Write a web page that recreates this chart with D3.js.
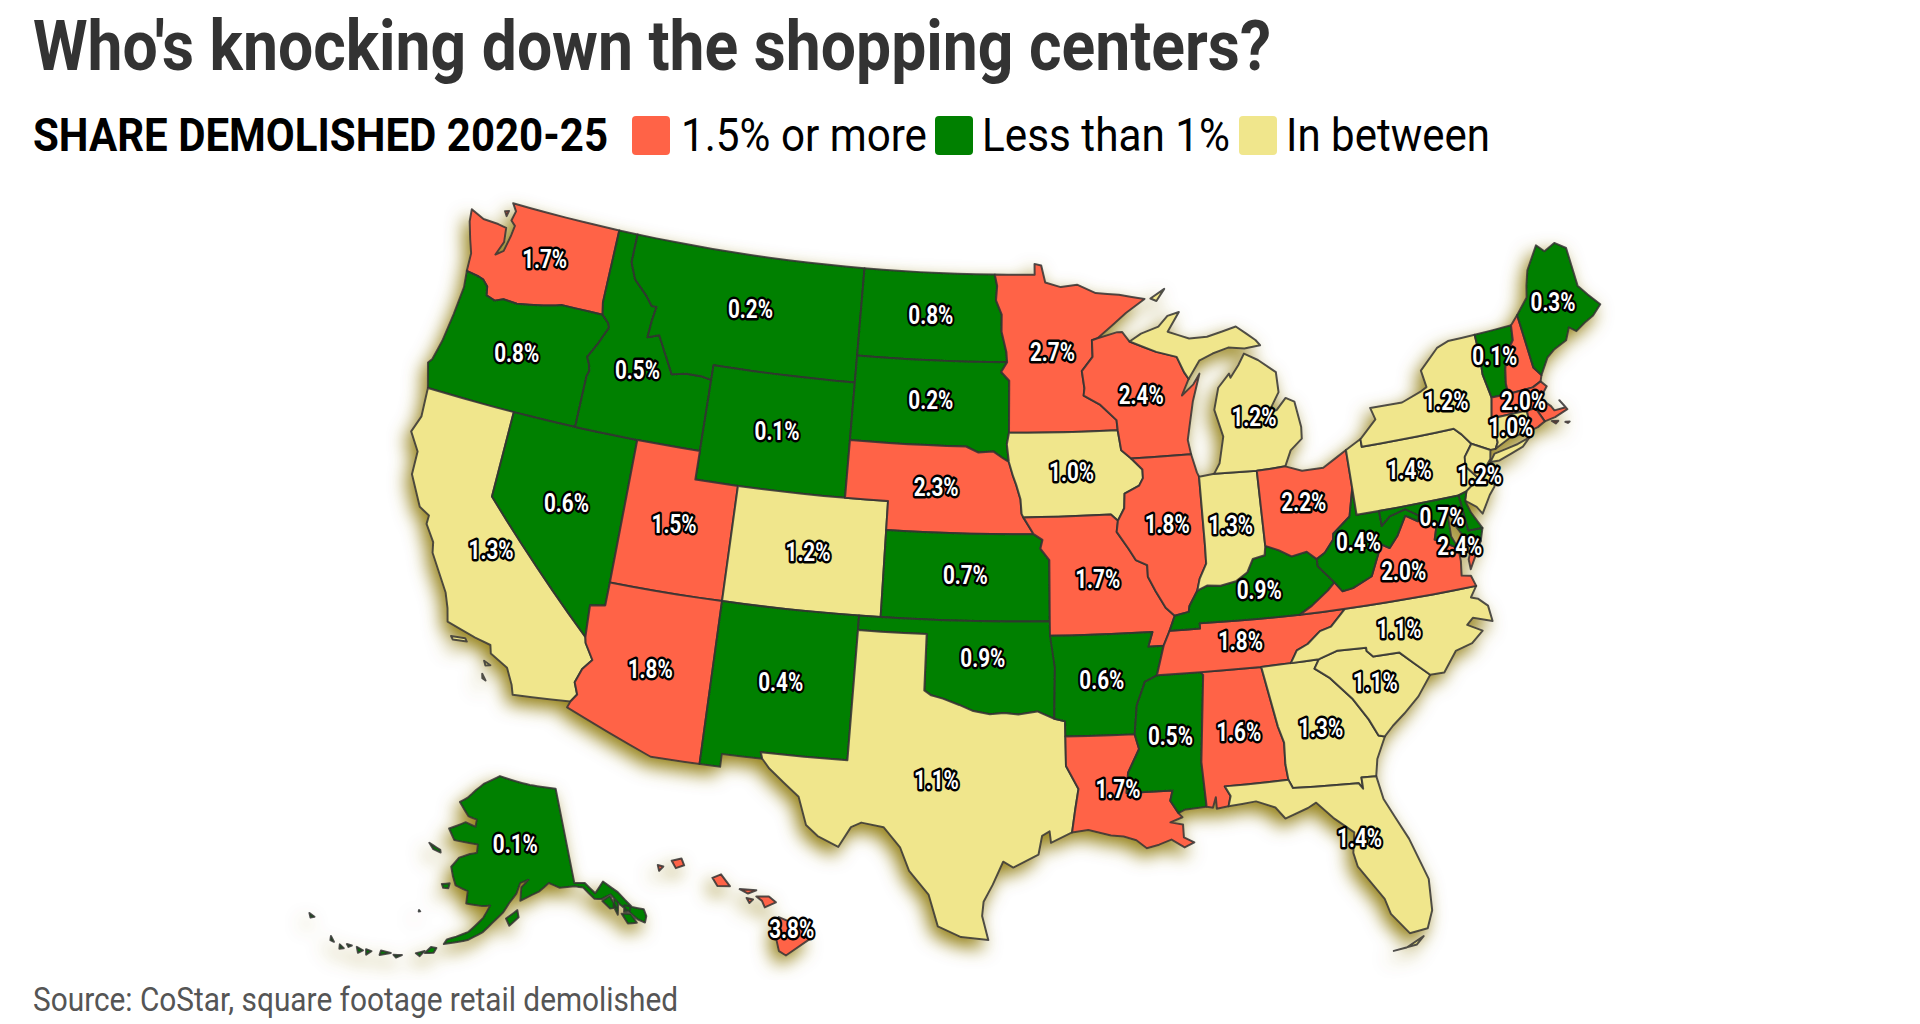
<!DOCTYPE html>
<html>
<head>
<meta charset="utf-8">
<title>Who's knocking down the shopping centers?</title>
<script src="https://cdn.jsdelivr.net/npm/d3@7"></script>
<style>
  body { margin: 0; background: #fff; }
  svg { display: block; }
  text { font-family: Roboto, sans-serif; }
  .state { stroke: #333; stroke-opacity: .85; stroke-width: 2; stroke-linejoin: round; }
  .share { fill: #fff; font-weight: 700; font-size: 25px; stroke: #000; stroke-width: 5px; paint-order: stroke; stroke-linejoin: round; text-anchor: middle; }
</style>
</head>
<body>
<div id="chart"></div>
<script>
var titleText = "Who's knocking down the shopping centers?";
var legendHead = "SHARE DEMOLISHED 2020-25";
var legendLabels = ["1.5% or more", "Less than 1%", "In between"];
var sourceText = "Source: CoStar, square footage retail demolished";

var stateIds = ["WA","OR","CA","NV","ID","MT","WY","UT","AZ","CO","NM","ND","SD","NE","KS","OK","TX","MN","IA","MO","AR","LA","WI","IL","MS","AL","TN","KY","IN","MI","OH","GA","FL","SC","NC","VA","WV","PA","NY","VT","NH","ME","MA","CT","RI","NJ","DE","MD","DC","AK","HI"];
var stateShares = [1.7,0.8,1.3,0.6,0.5,0.2,0.1,1.5,1.8,1.2,0.4,0.8,0.2,2.3,0.7,0.9,1.1,2.7,1.0,1.7,0.6,1.7,2.4,1.8,0.5,1.6,1.8,0.9,1.3,1.2,2.2,1.3,1.4,1.1,1.1,2.0,0.4,1.4,1.2,0.1,2.0,0.3,2.0,1.0,2.0,1.2,0.7,0.7,2.4,0.1,3.8];
var noLabel = ["NH","RI","DE"];

// shared borders, lon/lat
var columbia = [[-124.05,46.27],[-123.4,46.2],[-123.15,46.15],[-122.85,45.95],[-122.76,45.65],[-122.3,45.55],[-121.9,45.68],[-121.2,45.65],[-120.6,45.73],[-119.9,45.83],[-119.3,45.93],[-119,46],[-116.92,46]];
var snake = [[-116.92,46],[-116.55,45.75],[-116.47,45.6],[-116.85,44.95],[-117.2,44.45],[-117.03,44.2],[-116.95,43.98],[-117.03,43.8],[-117.03,42]];
var bitterroot = [[-116.05,49],[-116.05,48],[-115.7,47.45],[-114.95,46.95],[-114.6,46.65],[-114.35,46.65],[-114.45,46.15],[-114.5,45.55],[-113.95,45.7],[-113.45,45.05],[-113,44.45],[-112.3,44.55],[-111.5,44.55],[-111.05,44.48]];
var colorado = [[-114.63,35],[-114.57,34.8],[-114.15,34.27],[-114.5,33.9],[-114.7,33.4],[-114.5,33],[-114.72,32.72]];
var redNorth = [[-97.23,49],[-97.1,48.6],[-97.15,48.1],[-96.85,47.6],[-96.85,47],[-96.6,46.3],[-96.56,45.94]];
var sdMn = [[-96.56,45.94],[-96.85,45.6],[-96.45,45.3],[-96.45,43.5]];
var sdIa = [[-96.45,43.5],[-96.55,43.1],[-96.45,42.49]];
var sdNe = [[-96.45,42.49],[-96.7,42.6],[-97.2,42.85],[-97.9,42.8],[-98.5,43],[-104.05,43]];
var neIa = [[-96.45,42.49],[-96.25,42],[-96.1,41.7],[-95.9,41.2],[-95.85,40.7],[-95.77,40.58]];
var neMo = [[-95.77,40.58],[-95.3,40]];
var ksMo = [[-95.3,40],[-94.9,39.8],[-95,39.5],[-94.6,39.1],[-94.62,37]];
var mnWi = [[-92.29,46.66],[-92.29,46.08],[-92.85,45.6],[-92.75,45],[-92.8,44.75],[-92,44.4],[-91.25,43.85],[-91.22,43.5]];
var wiIa = [[-91.22,43.5],[-91.1,42.8],[-90.65,42.5]];
var ilIa = [[-90.65,42.5],[-90.15,42.1],[-90.15,41.8],[-90.35,41.55],[-91.05,41.3],[-91.1,40.8],[-91.42,40.38]];
var ilMo = [[-91.42,40.38],[-91.5,40],[-91,39.4],[-90.7,39],[-90.2,38.8],[-90.2,38.4],[-89.9,37.9],[-89.5,37.3],[-89.13,37]];
var moKy = [[-89.13,37],[-89.4,36.5]];
var moTn = [[-89.4,36.5],[-89.7,36]];
var arTn = [[-89.7,36],[-90.07,35]];
var arMs = [[-90.07,35],[-90.6,34.8],[-91,34],[-91.15,33.01]];
var laMs = [[-91.15,33.01],[-91,32.5],[-91.5,31.7],[-91.6,31],[-89.73,31],[-89.85,30.65],[-89.55,30.2]];
var redSouth = [[-94.49,33.64],[-95.2,33.9],[-96,33.8],[-96.6,33.85],[-97.2,33.8],[-97.9,33.9],[-98.5,34.1],[-99.2,34.3],[-99.7,34.4],[-100,34.56]];
var txLa = [[-94.04,33.02],[-94.04,32],[-93.55,31.2],[-93.7,30.5],[-93.85,29.7]];
var ohWv = [[-80.52,40.64],[-80.85,39.7],[-81.7,39.2],[-81.75,39],[-82.2,38.6],[-82.6,38.42]];
var kyOh = [[-82.6,38.42],[-83,38.72],[-83.7,38.63],[-84.25,38.9],[-84.82,39.1]];
var inKy = [[-84.82,39.1],[-84.9,38.78],[-85.45,38.7],[-85.75,38.27],[-86.3,38],[-87,37.9],[-87.6,37.95],[-88.05,37.8]];
var ilKy = [[-88.05,37.8],[-88.45,37.3],[-88.5,37.1],[-89.13,37]];
var wabash = [[-88.05,37.8],[-87.9,38.2],[-87.55,38.7],[-87.53,39.35],[-87.52,41.7]];
var kyTn = [[-89.4,36.5],[-88.07,36.5],[-88.07,36.68],[-86.5,36.65],[-83.68,36.6]];
var kyVa = [[-83.68,36.6],[-83.1,36.85],[-82.3,37.3],[-81.97,37.54]];
var kyWv = [[-81.97,37.54],[-82.6,38.17],[-82.6,38.42]];
var vaTn = [[-83.68,36.6],[-81.68,36.59]];
var vaNc = [[-81.68,36.59],[-75.87,36.55]];
var tnNc = [[-81.68,36.59],[-82.4,36.05],[-82.9,35.95],[-83.5,35.57],[-84,35.4],[-84.32,34.99]];
var tnSouth = [[-90.07,35],[-88.2,35],[-85.6,34.98],[-84.32,34.99]];
var vaWv = [[-81.97,37.54],[-81.68,37.2],[-81.2,37.25],[-80.3,37.55],[-79.65,38.58],[-79.3,38.4],[-78.87,38.76],[-78.35,39.4],[-77.83,39.13]];
var mdWv = [[-79.48,39.2],[-79.05,39.47],[-78.3,39.62],[-77.75,39.32]];
var mdVa = [[-77.75,39.32],[-77.5,39.1],[-77.05,38.85],[-77.25,38.4],[-76.9,38.25],[-76.3,37.95]];
var nyPa = [[-75.35,42],[-75.05,41.75],[-74.7,41.36]];
var paNj = [[-74.7,41.36],[-75.13,40.97],[-75.2,40.65],[-74.72,40.15],[-75.4,39.8]];
var vtNy = [[-73.35,45],[-73.35,44.2],[-73.43,43.6],[-73.27,42.75]];
var vtNh = [[-71.5,45.01],[-71.6,44.5],[-72.05,44.1],[-72.3,43.6],[-72.45,43.1],[-72.46,42.73]];
var meNh = [[-71.08,45.3],[-70.98,43.4],[-70.7,43.07]];
var scGa = [[-83.11,35],[-83.35,34.7],[-82.75,34.3],[-81.95,33.5],[-81.4,32.7],[-81.1,32.1],[-80.85,32.03]];
var ncSc = [[-83.11,35],[-82.3,35.2],[-81.04,35.15],[-81.04,35.04],[-80.8,34.82],[-79.67,34.8],[-78.55,33.86]];
var gaAl = [[-85.6,34.98],[-85.18,32.87],[-85,32.3],[-85.05,31.55],[-85,31]];
var gaFl = [[-85,31],[-84.86,30.7],[-82.2,30.57],[-82.05,30.36],[-82.05,30.75],[-81.45,30.72]];
var msAl = [[-88.2,35],[-88.1,34.9],[-88.47,31.9],[-88.4,30.35]];
var flAl = [[-85,31],[-87.6,31],[-87.4,30.65],[-87.52,30.3]];

function rev(a) { return a.slice().reverse(); }
function join() { return [].concat.apply([], arguments); }

var outlines = {
  WA: [join([[-124.73,48.38],[-124,48.17],[-123.2,48.15],[-122.75,48.1],[-122.65,47.6],[-122.9,47.1],[-122.55,47.3],[-122.4,47.9],[-122.35,48.25],[-122.6,48.4],[-122.5,48.75],[-122.76,49],[-117.03,49],[-117.04,46.42]], rev(columbia), [[-124.1,46.9],[-124.35,47.35],[-124.65,47.95]]),
       [[-123.05,48.65],[-122.85,48.7],[-122.9,48.5]]],
  OR: [join(columbia, snake, [[-120,42],[-124.2,42],[-124.55,42.84],[-124.4,43],[-124.2,43.7],[-124.05,44.7],[-123.95,45.7]])],
  CA: [join([[-124.2,42],[-120,42],[-120,39]], colorado, [[-117.12,32.53],[-117.25,32.85],[-117.6,33.4],[-118.4,33.75],[-118.5,34.03],[-119.2,34.15],[-120.5,34.45],[-120.65,34.9],[-120.9,35.4],[-121.9,36.6],[-122,36.96],[-122.5,37.5],[-122.5,37.8],[-123,38],[-123.75,39],[-123.8,39.8],[-124.35,40.4],[-124.1,41]]),
       [[-120.2,34],[-119.6,34.05],[-119.5,33.95],[-120.1,33.9]], [[-118.6,33.45],[-118.3,33.35],[-118.5,33.3]], [[-118.55,33],[-118.35,32.8],[-118.5,32.85]]],
  NV: [join([[-120,42],[-114.04,42],[-114.04,37],[-114.05,36.2],[-114.7,36.1],[-114.63,35],[-120,39]])],
  ID: [join([[-117.03,49]], bitterroot, [[-111.05,42],[-114.04,42],[-117.03,42]], rev(snake), [[-117.04,46.42]])],
  MT: [join([[-116.05,49],[-104.05,49],[-104.05,45],[-111.05,45]], rev(bitterroot))],
  WY: [[[-111.05,45],[-104.05,45],[-104.05,41],[-111.05,41]]],
  UT: [[[-114.04,42],[-111.05,42],[-111.05,41],[-109.05,41],[-109.05,37],[-114.04,37]]],
  AZ: [join([[-114.04,37],[-109.05,37],[-109.05,31.33],[-111.07,31.33],[-114.81,32.5]], rev(colorado), [[-114.7,36.1],[-114.05,36.2]])],
  CO: [[[-109.05,41],[-102.05,41],[-102.05,37],[-109.05,37]]],
  NM: [[[-109.05,37],[-103,37],[-103,36.5],[-103.04,32],[-106.62,32],[-106.53,31.78],[-108.2,31.78],[-108.2,31.33],[-109.05,31.33]]],
  ND: [join([[-104.05,49]], redNorth, [[-104.05,45.94]])],
  SD: [join([[-104.05,45.94]], sdMn, sdIa, sdNe, [[-104.05,45]])],
  NE: [join(sdNe, [[-104.05,41],[-102.05,41],[-102.05,40]], rev(neMo), rev(neIa))],
  KS: [join([[-102.05,40]], ksMo, [[-102.05,37]])],
  OK: [join([[-103,37],[-94.62,37],[-94.43,35.4]], redSouth, [[-100,36.5],[-103,36.5]])],
  TX: [join([[-103,36.5],[-100,36.5]], rev(redSouth), [[-94.04,33.55]], txLa, [[-94.7,29.35],[-94.75,29.75],[-95.05,29.6],[-95.2,28.95],[-96.2,28.5],[-96.6,28.7],[-97,27.9],[-97.35,27.3],[-97.4,26.8],[-97.15,25.96],[-98.2,26.05],[-99.1,26.4],[-99.5,27.5],[-100.3,28.3],[-100.7,29.1],[-101.4,29.77],[-102.3,29.88],[-102.7,29.7],[-103.15,28.98],[-104,29.3],[-104.5,29.65],[-104.9,30.6],[-106.2,31.47],[-106.53,31.78],[-106.62,32],[-103.04,32]])],
  MN: [join([[-97.23,49],[-95.15,49],[-95.15,49.38],[-94.8,49.32],[-94.6,48.72],[-93.8,48.55],[-92.95,48.62],[-92,48.3],[-90.8,48.2],[-89.5,48],[-90.5,47.55],[-92,46.72]], mnWi, [[-96.45,43.5]], rev(sdMn), rev(redNorth))],
  IA: [join([[-96.45,43.5]], wiIa, ilIa, [[-91.73,40.61]], rev(neIa), rev(sdIa))],
  MO: [join([[-95.77,40.58],[-91.73,40.61]], ilMo, moKy, moTn, [[-90.37,36],[-90.15,36.5],[-94.62,36.5]], rev(ksMo))],
  AR: [join([[-94.62,36.5],[-90.15,36.5],[-90.37,36]], arTn, arMs, [[-94.04,33.02],[-94.04,33.55],[-94.49,33.64],[-94.43,35.4]])],
  LA: [join([[-94.04,33.02]], laMs, [[-89.4,30.05],[-89.9,29.9],[-89.4,29.8],[-89.4,29.35],[-89,29.15],[-89.4,29],[-89.9,29.3],[-90.4,29.15],[-90.9,29.05],[-91.3,29.35],[-91.8,29.5],[-92.3,29.55],[-93.2,29.77]], rev(txLa))],
  WI: [join(mnWi, wiIa, [[-87.8,42.5],[-87.9,43],[-87.75,43.5],[-87.5,44.3],[-87.05,45.25],[-87.4,44.9],[-88,44.55],[-87.6,45.1],[-87.8,45.35],[-88.1,45.9],[-89.1,46.13],[-90.4,46.55],[-90.75,46.9],[-91,46.9],[-92,46.72]])],
  IL: [join([[-90.65,42.5],[-87.8,42.5],[-87.6,41.85]], rev(wabash), ilKy, rev(ilMo), rev(ilIa))],
  MS: [join([[-90.07,35]], msAl, [[-89.3,30.3]], rev(laMs), rev(arMs))],
  AL: [join([[-88.2,35]], gaAl, flAl, [[-88,30.25],[-88,30.65],[-88.15,30.3]], rev(msAl))],
  TN: [join(tnSouth, rev(tnNc), rev(vaTn), rev(kyTn), moTn, arTn)],
  KY: [join(kyTn, kyVa, kyWv, kyOh, inKy, ilKy, moKy)],
  IN: [join([[-87.52,41.7],[-86.8,41.76],[-84.8,41.7]], inKy, wabash)],
  MI: [[[-90.4,46.55],[-89.8,46.8],[-88.9,47],[-88.4,47.35],[-87.8,47.45],[-88.45,46.8],[-87.4,46.5],[-86.5,46.5],[-85,46.75],[-84.5,46.45],[-84.1,46.2],[-83.9,46],[-84.7,45.95],[-85.5,46.05],[-86.3,45.9],[-87,45.7],[-87.6,45.1],[-87.8,45.35],[-88.1,45.9],[-89.1,46.13]],
       [[-84.75,45.78],[-85.1,45.4],[-85.55,45],[-85.6,45.15],[-86.2,44.7],[-86.5,43.95],[-86.2,43],[-86.5,42.1],[-86.8,41.76],[-84.8,41.7],[-83.45,41.73],[-83.1,42.25],[-82.5,42.6],[-82.45,43],[-82.6,43.9],[-83,44.07],[-83.5,43.7],[-83.9,43.65],[-83.3,44.3],[-83.3,45],[-84.1,45.5]],
       [[-89.2,48],[-88.45,48.3],[-88.9,47.9]]],
  OH: [join([[-84.8,41.7],[-83.45,41.73],[-82.7,41.5],[-81.7,41.5],[-80.52,41.98]], ohWv, kyOh)],
  GA: [join([[-85.6,34.98],[-84.32,34.99]], scGa, [[-81.3,31.3]], rev(gaFl), rev(gaAl))],
  FL: [join(gaFl, [[-81.3,29.9],[-80.95,29.2],[-80.55,28.4],[-80.05,26.9],[-80.12,25.8],[-80.4,25.2],[-81.1,25.13],[-81.7,25.9],[-81.85,26.45],[-82.15,26.9],[-82.7,27.7],[-82.8,28.2],[-82.65,28.9],[-83.4,29.5],[-84,30.1],[-84.35,29.95],[-85.3,29.68],[-85.65,30.1],[-86.4,30.38]], rev(flAl)),
       [[-81.8,24.6],[-81.3,24.65],[-80.6,24.95],[-80.9,24.7]]],
  SC: [join(ncSc, [[-79.2,33.2],[-79.9,32.7],[-80.45,32.35]], rev(scGa))],
  NC: [join(vaNc, [[-76.2,36.2],[-75.9,36.1],[-75.55,35.8],[-75.5,35.25],[-76.3,35.5],[-76.6,35.3],[-76,35],[-76.55,34.65],[-77.3,34.5],[-77.95,33.85]], rev(ncSc), [[-84.32,34.99]], rev(tnNc))],
  VA: [join(mdVa, [[-76.3,37.5],[-76.4,37],[-76,36.93]], rev(vaNc), rev(vaTn), kyVa, vaWv),
       [[-75.65,37.95],[-75.25,38.03],[-75.95,37.15],[-75.95,37.5]]],
  WV: [join([[-80.52,40.64],[-80.52,39.72],[-79.48,39.72]], mdWv, rev(vaWv), kyWv, rev(ohWv))],
  PA: [join([[-80.52,41.98],[-79.76,42.27],[-79.76,42]], nyPa, paNj, [[-75.79,39.72],[-80.52,39.72]])],
  NY: [join([[-79.76,42.27],[-78.9,42.85],[-79.05,43.27],[-77.5,43.25],[-76.5,43.5],[-76.2,43.6],[-76.3,44.2],[-75.3,44.85],[-74.7,45]], vtNy, [[-73.5,42.05],[-73.49,41.2],[-73.65,41],[-73.9,41],[-74.7,41.36]], rev(nyPa), [[-79.76,42]]),
       [[-74.03,40.6],[-73.75,40.85],[-72.6,40.98],[-72,41.1],[-72.4,40.85],[-73.6,40.58]]],
  VT: [join(vtNh, rev(vtNy))],
  NH: [join(vtNh.slice(0, 1), meNh, [[-70.82,42.87],[-71.25,42.74]], rev(vtNh))],
  ME: [join(meNh, [[-70.2,43.6],[-69.8,43.8],[-69.1,44],[-68.8,44.4],[-68.5,44.2],[-68,44.4],[-67.5,44.55],[-67,44.85],[-67.45,45.3],[-67.8,45.7],[-67.8,47.07],[-68.3,47.36],[-68.9,47.18],[-69.23,47.46],[-70,46.7],[-70.25,46.2],[-70.4,45.8]])],
  MA: [[[-73.5,42.05],[-73.27,42.75],[-72.46,42.73],[-71.25,42.74],[-70.82,42.87],[-70.6,42.65],[-71.05,42.3],[-70.65,41.95],[-70.55,41.78],[-70,41.78],[-70.2,42.07],[-69.95,41.7],[-70.6,41.55],[-71.12,41.5],[-71.38,42.02],[-71.8,42.02]],
       [[-70.8,41.45],[-70.5,41.4],[-70.65,41.33]], [[-70.2,41.3],[-70,41.27],[-70.1,41.24]]],
  CT: [[[-73.5,42.05],[-71.8,42.02],[-71.85,41.32],[-72.9,41.25],[-73.65,41],[-73.49,41.2]]],
  RI: [[[-71.8,42.02],[-71.38,42.02],[-71.12,41.5],[-71.5,41.37],[-71.85,41.32]]],
  NJ: [join([[-73.9,41],[-74.7,41.36]], paNj.slice(1), [[-75.55,39.5],[-75.1,39.2],[-74.9,38.93],[-74.4,39.5],[-74.1,39.75],[-74,40.45],[-74.25,40.5],[-74,40.7]])],
  DE: [[[-75.79,39.72],[-75.4,39.8],[-75.55,39.5],[-75.4,39.05],[-75.05,38.45],[-75.7,38.46]]],
  MD: [join([[-79.48,39.72],[-75.79,39.72],[-75.7,38.46],[-75.05,38.45],[-75.25,38.03],[-75.65,37.95],[-75.9,38.2],[-76.2,38.7],[-76,39.4],[-76.45,39.1],[-76.5,38.4]], rev(mdVa), rev(mdWv))],
  DC: [[[-77.12,38.93],[-77.04,39],[-76.91,38.89],[-77.04,38.79]]],
  AK: [[[-141,69.65],[-141,60.3],[-139,60.1],[-137.5,58.9],[-135.5,59.8],[-134,58.8],[-133.4,58.4],[-131.8,56.6],[-130,56],[-130,55.3],[-130.6,54.75],[-131.6,55.3],[-132.5,56.2],[-133.7,57.2],[-134.8,58.4],[-136.6,58.2],[-137.9,58.4],[-139.5,59.7],[-141,60],[-144,60.1],[-146,60.7],[-148,60],[-149.5,59.7],[-151.8,59.2],[-151.5,60.5],[-150,61.2],[-151.7,60.9],[-152.5,59.9],[-153.9,59],[-155,58.1],[-157,57],[-158.5,56.1],[-161,55.2],[-163.2,54.8],[-164.9,54.5],[-164.5,55],[-163,55.4],[-161,56],[-158.6,57.5],[-157.5,58.7],[-159,58.6],[-162,58.7],[-162,59.9],[-164.5,60.3],[-165.3,61.1],[-166,62],[-164.7,63],[-162.5,63.5],[-161,63.7],[-161,64.5],[-163,64.55],[-166.4,64.6],[-168.1,65.6],[-164.5,66.5],[-162,66.2],[-161.9,66.9],[-164,67.1],[-166.8,68.35],[-165,68.9],[-163,69.8],[-161,70.5],[-156.6,71.35],[-152,70.85],[-148,70.4],[-144,70]],
       [[-154.5,57.5],[-152.4,58.3],[-152.2,57.6],[-153.9,56.8]], [[-167.2,60.2],[-165.7,60.4],[-165.8,59.9],[-166.8,59.85]], [[-171.7,63.8],[-169,63.4],[-168.8,63.15],[-170.5,63.3]],
       [[-136.6,58],[-135,58.3],[-134.5,57],[-135.6,57.1]], [[-134.4,57.9],[-133.9,57.4],[-134.6,56.3],[-134.9,57.2]], [[-133.9,56.3],[-132.4,56],[-131.9,55],[-133.4,55.2]], [[-133,57],[-132,56.7],[-132.4,56.3],[-133.4,56.4]],
       [[-166.9,54],[-166,54],[-166.3,53.5],[-167.7,53.3]], [[-169.1,53.1],[-167.8,53.5],[-168.4,52.9]], [[-170.3,57.25],[-170.05,57.15],[-170.3,57.1]], [[-172.5,52.4],[-171.2,52.6],[-172,52.2]], [[-174.6,52.45],[-173,52.5],[-174.6,52]], [[-176.9,52.1],[-176,52.1],[-176.6,51.6]], [[-178.4,52],[-177.3,51.9],[-177.9,51.5]], [[179,51.6],[179.8,51.4],[179.2,51.2]], [[177.2,52],[178,51.6],[177.4,51.6]], [[172.5,53.05],[173.5,52.95],[173,52.7]], [[-180,51.9],[-179.2,51.95],[-179.6,51.7]]],
  HI: [[[-155.9,20.25],[-155.2,19.97],[-154.8,19.5],[-155.65,18.95],[-155.9,19.1],[-156.05,19.75]], [[-156.7,20.95],[-156.25,20.95],[-156,20.75],[-156.4,20.58],[-156.5,20.8]], [[-157.3,21.2],[-156.7,21.16],[-157,21.05]], [[-157.05,20.9],[-156.82,20.85],[-156.95,20.73]], [[-158.28,21.58],[-157.97,21.7],[-157.65,21.3],[-158.1,21.3]], [[-159.75,22.15],[-159.4,22.23],[-159.3,22],[-159.6,21.9]], [[-160.25,22],[-160.05,21.95],[-160.2,21.8]]]
};

// label offsets from each state's centroid, px
var labelNudge = {
  WA: [1,-1], OR: [0,-2], CA: [1,-1], NV: [0,-2], ID: [-1,-1], MT: [0,-2], WY: [0,-2], UT: [0,-2], AZ: [0,-1], CO: [1,-1],
  NM: [0,-2], ND: [0,-2], SD: [-1,-4], NE: [-1,-1], KS: [0,-2], OK: [-1,-4], TX: [-1,-1], MN: [-1,0], IA: [0,-1], MO: [0,-2],
  AR: [0,-1], LA: [0,-4], WI: [0,-1], IL: [0,-4], MS: [0,-4], AL: [0,-2], TN: [-1,-2], KY: [-1,-2], IN: [0,-1], MI: [17,18],
  OH: [-1,-4], FL: [-1,-1], SC: [-1,-1], NC: [-6,-1], VA: [-1,0], WV: [-1,-4], PA: [0,-1], NY: [2,-2], VT: [0,-2], ME: [1,-2],
  MA: [-1,-3], CT: [0,1], NJ: [0,-1], MD: [2,-2], DC: [23,22], AK: [0,-9], HI: [22,9]
};

var width = 1920, height = 1024;
var tomato = "#FF6347", green = "#008000", khaki = "#F0E68C";
var legendColors = [tomato, green, khaki];
var fillScale = d3.scaleThreshold().domain([1, 1.5]).range([green, khaki, tomato]);

var mainland = d3.geoAlbers().rotate([96, 0]).center([-0.6, 38.7]).parallels([29.5, 45.5]).scale(1650).translate([1005, 572]);
var alaska = d3.geoConicEqualArea().rotate([154, 0]).center([-2, 58.5]).parallels([55, 65]).scale(590).translate([498, 908]);
var hawaii = d3.geoConicEqualArea().rotate([157, 0]).center([-3, 19.9]).parallels([8, 18]).scale(1700).translate([664, 927]);

function projectionFor(id) { return id === "AK" ? alaska : id === "HI" ? hawaii : mainland; }

// split long lines so that parallels follow the conic curve, and keep rings the right way round
function toFeature(id) {
  var rings = outlines[id].map(function (ring) {
    var out = [];
    ring.concat([ring[0]]).forEach(function (p, i, all) {
      if (i > 0) {
        var a = all[i - 1], n = Math.ceil(Math.abs(p[0] - a[0]));
        if (Math.abs(p[0] - a[0]) < 180) for (var k = 1; k < n; k++) out.push([a[0] + (p[0] - a[0]) * k / n, a[1] + (p[1] - a[1]) * k / n]);
      }
      out.push(p);
    });
    if (d3.geoArea({ type: "Polygon", coordinates: [out] }) > 2 * Math.PI) out.reverse();
    return [out];
  });
  return { type: "Feature", id: id, geometry: { type: "MultiPolygon", coordinates: rings } };
}

var svg = d3.select("#chart").append("svg").attr("width", width).attr("height", height);

var defs = svg.append("defs");
defs.append("filter").attr("id", "glow").attr("filterUnits", "userSpaceOnUse").attr("x", 200).attr("y", 150).attr("width", 1500).attr("height", 830)
  .append("feDropShadow").attr("dx", -5).attr("dy", 8).attr("stdDeviation", 9).attr("flood-color", "#8a7500").attr("flood-opacity", 0.9);

svg.append("text").attr("x", 33).attr("y", 70).attr("font-size", 70).attr("font-weight", 700).attr("fill", "#333")
  .attr("textLength", 1238).attr("lengthAdjust", "spacingAndGlyphs").text(titleText);
svg.append("text").attr("x", 33).attr("y", 151).attr("font-size", 46).attr("font-weight", 700).attr("fill", "#000")
  .attr("textLength", 575).attr("lengthAdjust", "spacingAndGlyphs").text(legendHead);

var swatchX = [632, 935, 1239], legendTextX = [681, 982, 1286], legendTextW = [246, 248, 204];
legendLabels.forEach(function (label, i) {
  svg.append("rect").attr("x", swatchX[i]).attr("y", 116).attr("width", 38).attr("height", 39).attr("rx", 4).attr("fill", legendColors[i]);
  svg.append("text").attr("x", legendTextX[i]).attr("y", 151).attr("font-size", 47).attr("fill", "#000")
    .attr("textLength", legendTextW[i]).attr("lengthAdjust", "spacingAndGlyphs").text(label);
});

var features = stateIds.map(toFeature);
var shareOf = new Map(d3.zip(stateIds, stateShares));

svg.append("g").attr("filter", "url(#glow)").selectAll("path").data(features).join("path")
  .attr("class", "state")
  .attr("d", function (d) { return d3.geoPath(projectionFor(d.id))(d); })
  .attr("fill", function (d) { return fillScale(shareOf.get(d.id)); });

svg.append("g").selectAll("text").data(features.filter(function (d) { return noLabel.indexOf(d.id) < 0; })).join("text")
  .attr("class", "share")
  .attr("transform", function (d) {
    var c = d3.geoPath(projectionFor(d.id)).centroid(d), n = labelNudge[d.id] || [0, 0];
    return "translate(" + (c[0] + n[0]) + "," + (c[1] + n[1] + 9) + ")";
  })
  .attr("textLength", 45).attr("lengthAdjust", "spacingAndGlyphs")
  .text(function (d) { return d3.format(".1f")(shareOf.get(d.id)) + "%"; });

svg.append("text").attr("x", 33).attr("y", 1011).attr("font-size", 33).attr("fill", "#555")
  .attr("textLength", 645).attr("lengthAdjust", "spacingAndGlyphs").text(sourceText);
</script>
</body>
</html>
